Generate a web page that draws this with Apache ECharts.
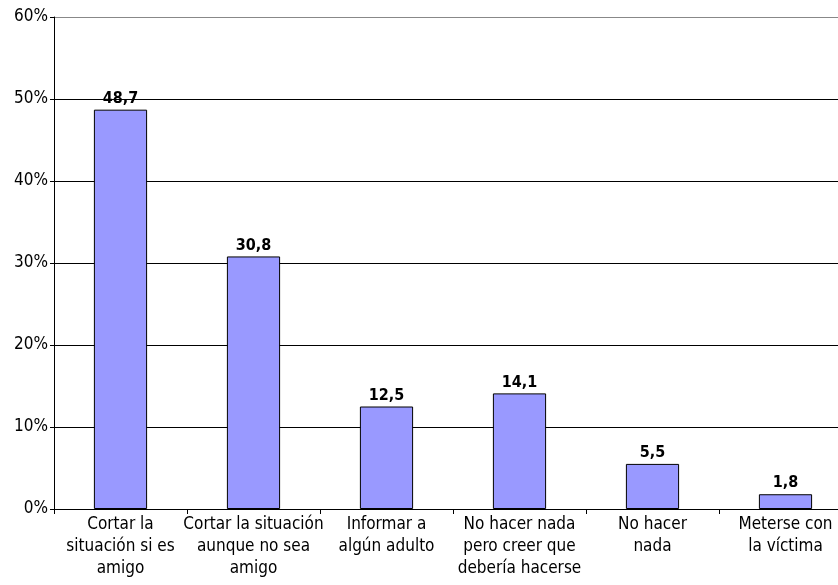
<!DOCTYPE html>
<html>
<head>
<meta charset="utf-8">
<script src="https://cdn.jsdelivr.net/npm/echarts@6/dist/echarts.min.js"></script>
<style>
html, body { margin: 0; padding: 0; background: #fff; overflow: hidden; }
#chart { width: 852px; height: 585px; }
</style>
</head>
<body>
<div id="chart"></div>
<script>
// categorias y valores (%)
const categories = [
  'Cortar la\nsituación si es\namigo',
  'Cortar la situación\naunque no sea\namigo',
  'Informar a\nalgún adulto',
  'No hacer nada\npero creer que\ndebería hacerse',
  'No hacer\nnada',
  'Meterse con\nla víctima'
];
const values = [48.7, 30.8, 12.5, 14.1, 5.5, 1.8];
const yTicks = [0, 10, 20, 30, 40, 50, 60];

const font = '"DejaVu Sans Condensed", "Liberation Sans", sans-serif';
const chart = echarts.init(document.getElementById('chart'));
chart.setOption({
  animation: false,
  grid: { left: 54, right: 0, top: 17, bottom: 76 },
  xAxis: {
    type: 'category',
    data: categories,
    axisLine: { lineStyle: { color: '#000', width: 1 } },
    axisTick: { show: true, length: 5, lineStyle: { color: '#000' } },
    axisLabel: { color: '#000', fontFamily: font, fontSize: 17, lineHeight: 22, margin: 5, interval: 0 }
  },
  yAxis: {
    type: 'value',
    min: yTicks[0],
    max: yTicks[yTicks.length - 1],
    interval: 10,
    axisLine: { show: true, lineStyle: { color: '#000' } },
    axisTick: { show: true, length: 4, lineStyle: { color: '#000' } },
    axisLabel: { color: '#000', fontFamily: font, fontSize: 17, formatter: '{value}%', margin: 6 },
    splitLine: { lineStyle: { color: ['#000', '#000', '#000', '#000', '#000', '#000', '#888'], width: 1 } }
  },
  series: [{
    type: 'bar',
    data: values,
    barWidth: '40%',
    itemStyle: { color: '#9999ff', borderColor: '#000', borderWidth: 1 },
    label: {
      show: true,
      position: 'top',
      distance: 3,
      color: '#000',
      fontFamily: font,
      fontWeight: 'bold',
      fontSize: 16,
      formatter: p => String(p.value).replace('.', ',')
    }
  }]
});
</script>
</body>
</html>
